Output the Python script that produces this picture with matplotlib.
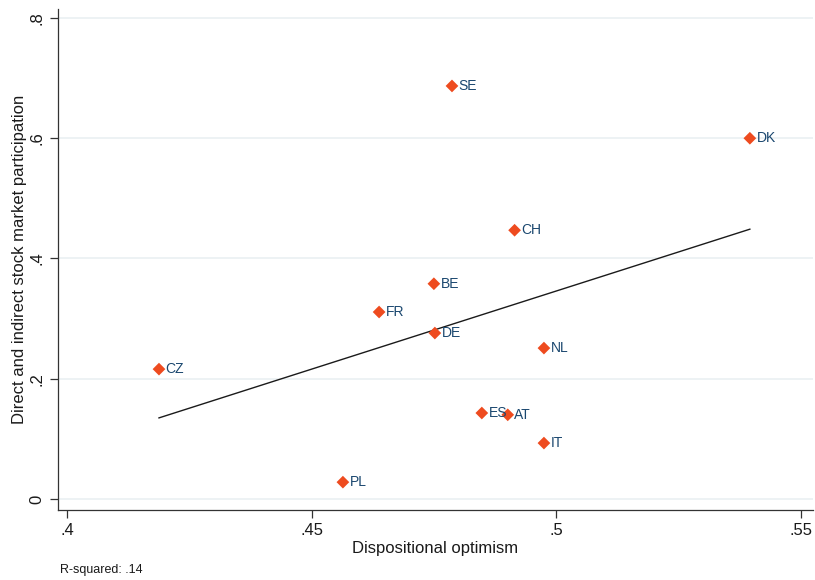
import numpy as np
import matplotlib
matplotlib.use("Agg")
import matplotlib.pyplot as plt

plt.rcParams["font.family"] = ["Liberation Sans", "DejaVu Sans"]

# country-level averages
countries = ["SE", "DK", "CH", "BE", "FR", "DE", "NL", "CZ", "ES", "AT", "IT", "PL"]
optimism = [0.4787, 0.5396, 0.4915, 0.4750, 0.4638, 0.4752, 0.4975, 0.4188, 0.4848, 0.4901, 0.4975, 0.4564]
participation = [0.687, 0.600, 0.447, 0.358, 0.311, 0.276, 0.251, 0.216, 0.143, 0.140, 0.093, 0.028]

x = np.array(optimism)
y = np.array(participation)
slope, icept = np.polyfit(x, y, 1)
xs = np.array([x.min(), x.max()])

fig = plt.figure(figsize=(8.15, 5.8), dpi=100, facecolor="white")
ax = fig.add_axes([0.0712, 0.1207, 0.926, 0.8638])

for yy in [0, 0.2, 0.4, 0.6, 0.8]:
    ax.axhline(yy, color="#eaf0f2", lw=1.2, zorder=0)

ax.plot(xs, icept + slope * xs, color="#1a1a1a", lw=1.0, zorder=2)
ax.scatter(x, y, marker="D", s=42, color="#ee4b1f", edgecolors="none", zorder=3)
for c, xi, yi in zip(countries, x, y):
    ax.annotate(c, (xi, yi), xytext=(4.8, 0), textcoords="offset points",
                va="center", ha="left", fontsize=10, color="#1a476f", zorder=4)

ax.set_xlim(0.39816, 0.55245)
ax.set_ylim(-0.0183, 0.815)
ax.set_xticks([0.4, 0.45, 0.5, 0.55])
ax.set_xticklabels([".4", ".45", ".5", ".55"])
ax.set_yticks([0, 0.2, 0.4, 0.6, 0.8])
ax.set_yticklabels(["0", ".2", ".4", ".6", ".8"], rotation=90, va="center")
ax.tick_params(labelsize=12, color="#333333", length=6, width=0.9, labelcolor="#1a1a1a")

for side in ["top", "right"]:
    ax.spines[side].set_visible(False)
for side in ["left", "bottom"]:
    ax.spines[side].set_color("#333333")
    ax.spines[side].set_linewidth(0.9)

ax.set_xlabel("Dispositional optimism", fontsize=12, color="#1a1a1a", labelpad=2)
ax.set_ylabel("Direct and indirect stock market participation", fontsize=12, color="#1a1a1a", labelpad=2)

fig.text(0.074, 0.012, "R-squared: .14", fontsize=9, color="#1a1a1a")

fig.savefig("out.png", dpi=100, facecolor="white")
